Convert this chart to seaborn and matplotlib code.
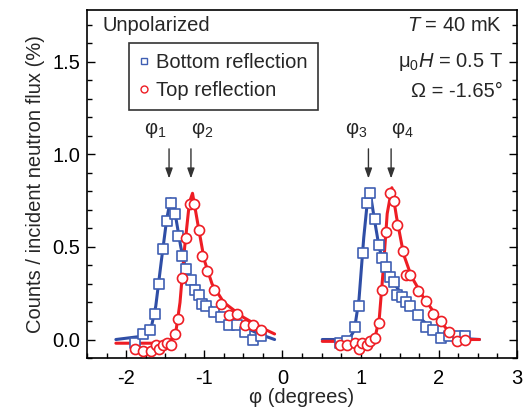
import matplotlib
matplotlib.use("Agg")
import matplotlib.pyplot as plt
import seaborn as sns
from matplotlib.lines import Line2D
from matplotlib.ticker import MultipleLocator

# ---- data ----
bottom_x = [-1.88, -1.78, -1.69, -1.63, -1.58, -1.53, -1.48, -1.43, -1.38, -1.33, -1.28, -1.23,
            -1.17, -1.12, -1.07, -1.03, -0.98, -0.88, -0.78, -0.68, -0.58, -0.48, -0.38, -0.28,
            0.73, 0.83, 0.93, 0.98, 1.03, 1.08, 1.12, 1.18, 1.23, 1.27, 1.33, 1.38, 1.43, 1.47,
            1.53, 1.58, 1.63, 1.74, 1.83, 1.93, 2.03, 2.13, 2.24, 2.33]
bottom_y = [-0.02, 0.03, 0.05, 0.14, 0.30, 0.49, 0.64, 0.74, 0.68, 0.56, 0.45, 0.38,
            0.32, 0.27, 0.24, 0.19, 0.18, 0.15, 0.12, 0.08, 0.08, 0.04, 0.00, 0.02,
            -0.02, -0.01, 0.07, 0.18, 0.47, 0.74, 0.79, 0.65, 0.51, 0.44, 0.39, 0.34, 0.31, 0.24,
            0.23, 0.20, 0.18, 0.13, 0.07, 0.05, 0.01, 0.02, 0.02, 0.02]

top_x = [-1.88, -1.78, -1.68, -1.62, -1.58, -1.53, -1.48, -1.43, -1.38, -1.33, -1.29, -1.23,
         -1.18, -1.13, -1.07, -1.03, -0.97, -0.88, -0.78, -0.68, -0.58, -0.48, -0.38, -0.28,
         0.73, 0.83, 0.93, 0.98, 1.02, 1.08, 1.12, 1.18, 1.23, 1.27, 1.32, 1.38, 1.43, 1.47,
         1.54, 1.58, 1.63, 1.73, 1.83, 1.93, 2.03, 2.13, 2.23, 2.33]
top_y = [-0.05, -0.06, -0.06, -0.03, -0.05, -0.03, -0.02, -0.03, 0.03, 0.11, 0.33, 0.55,
         0.73, 0.73, 0.59, 0.45, 0.37, 0.27, 0.19, 0.13, 0.14, 0.08, 0.08, 0.05,
         -0.03, -0.03, -0.02, -0.05, -0.02, -0.03, -0.01, 0.01, 0.09, 0.27, 0.58, 0.79, 0.75, 0.62,
         0.48, 0.35, 0.35, 0.26, 0.21, 0.14, 0.10, 0.04, -0.01, 0.00]

# fit curves (two segments each)
bfit_left_x = [-2.13, -1.75, -1.68, -1.62, -1.55, -1.48, -1.43, -1.38, -1.30, -1.22, -1.10, -0.90, -0.60, -0.30, -0.10]
bfit_left_y = [0.00, 0.02, 0.06, 0.18, 0.42, 0.65, 0.76, 0.70, 0.50, 0.35, 0.26, 0.17, 0.09, 0.03, 0.00]
bfit_right_x = [0.51, 0.85, 0.92, 0.98, 1.04, 1.09, 1.12, 1.18, 1.24, 1.32, 1.45, 1.60, 1.80, 2.00, 2.15, 2.52]
bfit_right_y = [0.00, 0.00, 0.05, 0.22, 0.55, 0.76, 0.80, 0.64, 0.49, 0.39, 0.29, 0.20, 0.10, 0.03, 0.01, 0.00]
tfit_left_x = [-2.13, -1.50, -1.42, -1.36, -1.31, -1.25, -1.19, -1.15, -1.08, -1.00, -0.90, -0.75, -0.50, -0.25, -0.10]
tfit_left_y = [-0.02, -0.02, 0.00, 0.05, 0.20, 0.50, 0.74, 0.79, 0.62, 0.43, 0.30, 0.20, 0.12, 0.06, 0.03]
tfit_right_x = [0.51, 1.12, 1.19, 1.24, 1.29, 1.34, 1.40, 1.46, 1.55, 1.65, 1.80, 2.00, 2.15, 2.23, 2.52]
tfit_right_y = [-0.01, -0.01, 0.02, 0.12, 0.38, 0.68, 0.82, 0.66, 0.46, 0.34, 0.23, 0.11, 0.03, 0.00, 0.00]

arrow_x = [-1.45, -1.17, 1.10, 1.39]
arrow_labels = [r"φ$_1$", r"φ$_2$", r"φ$_3$", r"φ$_4$"]

xticks = [-2, -1, 0, 1, 2, 3]
yticks = [0.0, 0.5, 1.0, 1.5]

BLUE = "#2f4ea6"
BLUE_M = "#3f5fb3"
RED = "#ee1d24"

sns.set_theme(style="ticks")
plt.rcParams["font.family"] = ["Liberation Sans", "DejaVu Sans"]
plt.rcParams["mathtext.fontset"] = "custom"
plt.rcParams["mathtext.rm"] = "Liberation Sans"
plt.rcParams["mathtext.it"] = "Liberation Sans:italic"
plt.rcParams["axes.unicode_minus"] = False

FS = 14.5

fig = plt.figure(figsize=(5.27, 4.18), dpi=100)
ax = fig.add_axes([0.165, 0.1435, 0.816, 0.8325])

for fx, fy, c in [(bfit_left_x, bfit_left_y, BLUE), (bfit_right_x, bfit_right_y, BLUE),
                  (tfit_left_x, tfit_left_y, RED), (tfit_right_x, tfit_right_y, RED)]:
    sns.lineplot(x=fx, y=fy, color=c, lw=2.2, sort=False, ax=ax, zorder=2)

sns.scatterplot(x=bottom_x, y=bottom_y, marker="s", s=48, facecolor="white",
                edgecolor=BLUE_M, linewidth=1.2, ax=ax, zorder=3)
sns.scatterplot(x=top_x, y=top_y, marker="o", s=52, facecolor="white",
                edgecolor=RED, linewidth=1.2, ax=ax, zorder=4)

ax.set_xlim(-2.5, 3)
ax.set_ylim(-0.1, 1.78)
ax.set_xticks(xticks)
ax.set_yticks(yticks)
ax.set_yticklabels([f"{v:.1f}" for v in yticks])
ax.xaxis.set_minor_locator(MultipleLocator(0.25))
ax.yaxis.set_minor_locator(MultipleLocator(0.1))
ax.tick_params(which="both", direction="in", right=True, top=False, colors="black",
               labelsize=FS, width=1)
ax.tick_params(which="major", length=6)
ax.tick_params(which="minor", length=3.5)
ax.tick_params(axis="x", pad=8)
ax.tick_params(axis="y", pad=5)
for s in ax.spines.values():
    s.set_linewidth(1.2)
    s.set_color("black")

ax.set_xlabel("φ (degrees)", fontsize=FS, labelpad=0)
ax.set_ylabel("Counts / incident neutron flux (%)", fontsize=FS, labelpad=5)

# arrows and labels
label_ha = ["right", "left", "right", "left"]
label_dx = [-0.035, 0.0, -0.01, 0.0]
for x0, lab, ha, dx in zip(arrow_x, arrow_labels, label_ha, label_dx):
    ax.annotate("", xy=(x0, 0.855), xytext=(x0, 1.045),
                arrowprops=dict(arrowstyle="-|>,head_length=0.5,head_width=0.18",
                                color="#333333", lw=1))
    ax.text(x0 + dx, 1.11, lab, ha=ha, va="baseline", fontsize=FS)

ax.text(0.037, 0.955, "Unpolarized", transform=ax.transAxes, ha="left", va="center", fontsize=FS)
ax.text(0.965, 0.955, r"$T$ = 40 mK", transform=ax.transAxes, ha="right", va="center", fontsize=FS)
ax.text(0.967, 0.85, r"μ$_0$$H$ = 0.5 T", transform=ax.transAxes, ha="right", va="center", fontsize=FS)
ax.text(0.967, 0.765, "Ω = -1.65°", transform=ax.transAxes, ha="right", va="center", fontsize=FS)

handles = [Line2D([], [], ls="none", marker="s", ms=5, mfc="white", mec=BLUE_M, mew=1),
           Line2D([], [], ls="none", marker="o", ms=5, mfc="white", mec=RED, mew=1)]
leg = ax.legend(handles, ["Bottom reflection", "Top reflection"], loc="upper left",
                bbox_to_anchor=(0.098, 0.905), fontsize=FS, frameon=True, fancybox=False,
                edgecolor="black", handlelength=0.5, handletextpad=0.35, borderpad=0.5,
                labelspacing=0.45, borderaxespad=0)
leg.get_frame().set_linewidth(1.2)

fig.savefig("out.png", dpi=100)
